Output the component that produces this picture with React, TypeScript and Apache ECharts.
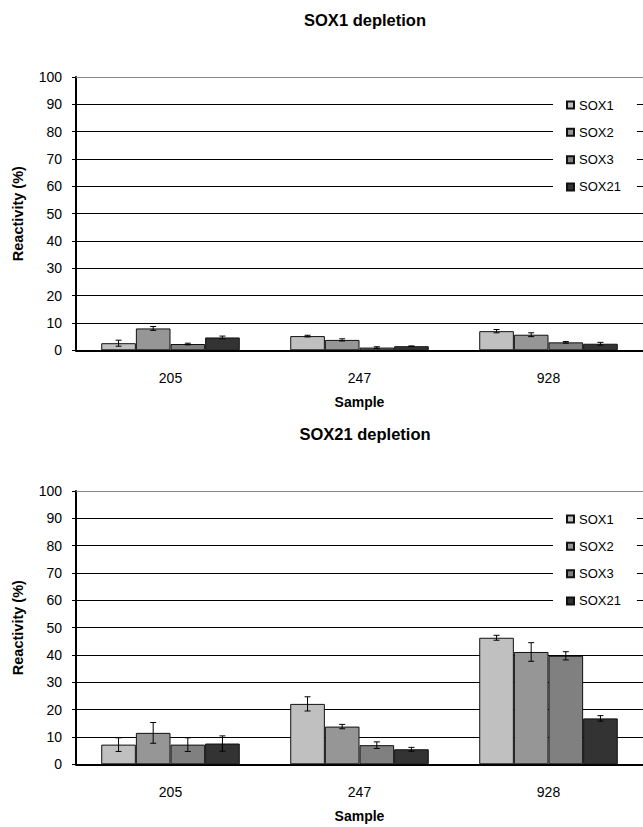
import React, { useEffect, useRef } from "react";
import * as echarts from "echarts";

const categories = ["205", "247", "928"];
const seriesNames = ["SOX1", "SOX2", "SOX3", "SOX21"];
const barColors = ["#C0C0C0", "#969696", "#808080", "#333333"];
const panelTitles = ["SOX1 depletion", "SOX21 depletion"];

// Panel 1: SOX1 depletion
const p1SOX1 = [2.6, 5.2, 7.0];
const p1SOX2 = [8.0, 3.8, 5.7];
const p1SOX3 = [2.3, 1.0, 2.9];
const p1SOX21 = [4.7, 1.5, 2.4];
const p1ErrSOX1 = [1.1, 0.3, 0.6];
const p1ErrSOX2 = [0.7, 0.4, 0.7];
const p1ErrSOX3 = [0.3, 0.3, 0.3];
const p1ErrSOX21 = [0.5, 0.1, 0.5];

// Panel 2: SOX21 depletion
const p2SOX1 = [7.2, 22.1, 46.3];
const p2SOX2 = [11.5, 13.8, 41.1];
const p2SOX3 = [7.2, 7.0, 39.7];
const p2SOX21 = [7.6, 5.5, 16.8];
const p2ErrSOX1 = [2.5, 2.6, 0.9];
const p2ErrSOX2 = [3.8, 0.8, 3.4];
const p2ErrSOX3 = [2.5, 1.2, 1.5];
const p2ErrSOX21 = [2.8, 0.7, 1.0];

const FONT = "'Liberation Sans', Arial, sans-serif";
const CAT_GAP = 0.267;

const panels = [
  { values: [p1SOX1, p1SOX2, p1SOX3, p1SOX21], errs: [p1ErrSOX1, p1ErrSOX2, p1ErrSOX3, p1ErrSOX21] },
  { values: [p2SOX1, p2SOX2, p2SOX3, p2SOX21], errs: [p2ErrSOX1, p2ErrSOX2, p2ErrSOX3, p2ErrSOX21] },
];

const gridTops = [77, 491];
const gridH = 273.3;

export default function App() {
  const ref = useRef<HTMLDivElement>(null);
  useEffect(() => {
    if (!ref.current) return;
    const chart = echarts.init(ref.current, null, { renderer: "svg" });

    const grids = gridTops.map((t) => ({ left: 76, top: t, width: 573, height: gridH }));

    const xAxes: any[] = [];
    const yAxes: any[] = [];
    gridTops.forEach((_, g) => {
      xAxes.push({
        type: "category",
        gridIndex: g,
        data: categories,
        axisLine: { lineStyle: { color: "#000", width: 2 } },
        axisTick: { length: 5, lineStyle: { color: "#000", width: 1 } },
        axisLabel: { fontSize: 14, color: "#000", margin: 21, fontFamily: FONT },
        name: "Sample",
        nameLocation: "middle",
        nameGap: 45,
        nameTextStyle: { fontSize: 14, fontWeight: "bold", color: "#000", fontFamily: FONT },
      });
      yAxes.push({
        type: "value",
        gridIndex: g,
        min: 0,
        max: 100,
        interval: 10,
        axisLine: { show: true, lineStyle: { color: "#000", width: 2 } },
        axisTick: { show: true, length: 4, lineStyle: { color: "#000", width: 1 } },
        axisLabel: { fontSize: 14, color: "#000", margin: 14, fontFamily: FONT },
        splitLine: { show: true, showMaxLine: false, lineStyle: { color: "#000", width: 1 } },
        name: "Reactivity (%)",
        nameLocation: "middle",
        nameGap: 51,
        nameRotate: 90,
        nameTextStyle: { fontSize: 14.5, fontWeight: "bold", color: "#000", fontFamily: FONT },
      });
    });
    gridTops.forEach((_, g) => {
      xAxes.push({
        type: "category",
        gridIndex: g,
        position: "top",
        data: categories,
        axisLine: { lineStyle: { color: "#888", width: 1 } },
        axisTick: { show: false },
        axisLabel: { show: false },
      });
    });

    const series: any[] = [];
    panels.forEach((p, g) => {
      seriesNames.forEach((name, s) => {
        series.push({
          type: "bar",
          name,
          xAxisIndex: g,
          yAxisIndex: g,
          data: p.values[s],
          barGap: "0%",
          barCategoryGap: CAT_GAP * 100 + "%",
          itemStyle: { color: barColors[s], borderColor: "#111", borderWidth: 1 },
          z: 2,
        });
      });
      const errData: number[][] = [];
      seriesNames.forEach((_, s) => {
        categories.forEach((__, c) => {
          const v = p.values[s][c];
          const e = p.errs[s][c];
          errData.push([c, s, v - e, v + e]);
        });
      });
      series.push({
        type: "custom",
        xAxisIndex: g,
        yAxisIndex: g,
        data: errData,
        encode: { x: 0, y: [2, 3] },
        z: 5,
        silent: true,
        renderItem: (params: any, api: any) => {
          const c = api.value(0);
          const s = api.value(1);
          const lo = api.value(2);
          const hi = api.value(3);
          const band = api.size([1, 0])[0];
          const bw = (band * (1 - CAT_GAP)) / 4;
          const cx = api.coord([c, 0])[0] + (s - 1.5) * bw;
          const yLo = api.coord([c, lo])[1];
          const yHi = api.coord([c, hi])[1];
          const cap = 3;
          const st = { stroke: "#000", lineWidth: 1 };
          return {
            type: "group",
            children: [
              { type: "line", shape: { x1: cx, y1: yLo, x2: cx, y2: yHi }, style: st },
              { type: "line", shape: { x1: cx - cap, y1: yLo, x2: cx + cap, y2: yLo }, style: st },
              { type: "line", shape: { x1: cx - cap, y1: yHi, x2: cx + cap, y2: yHi }, style: st },
            ],
          };
        },
      });
    });

    const legends = gridTops.map((t) => ({
      orient: "vertical",
      left: 553,
      top: t + 15,
      data: seriesNames,
      icon: "rect",
      itemWidth: 7,
      itemHeight: 7,
      itemGap: 13.33,
      padding: [6, 16, 6, 13],
      backgroundColor: "#fff",
      textStyle: { fontSize: 13, lineHeight: 14, color: "#000", fontFamily: FONT },
      z: 10,
    }));

    const titleY = [20, 434];
    const graphic = panelTitles.map((txt, i) => ({
      type: "text",
      x: 365,
      y: titleY[i],
      style: {
        text: txt,
        textAlign: "center",
        textVerticalAlign: "middle",
        fontSize: 16.5,
        fontWeight: "bold",
        fontFamily: FONT,
        fill: "#000",
      },
    }));

    chart.setOption({
      animation: false,
      backgroundColor: "#fff",
      grid: grids,
      xAxis: xAxes,
      yAxis: yAxes,
      legend: legends,
      series,
      graphic,
    });
    return () => chart.dispose();
  }, []);
  return (
    <div
      ref={ref}
      style={{ position: "absolute", left: 0, top: 0, width: 643, height: 827 }}
    />
  );
}
